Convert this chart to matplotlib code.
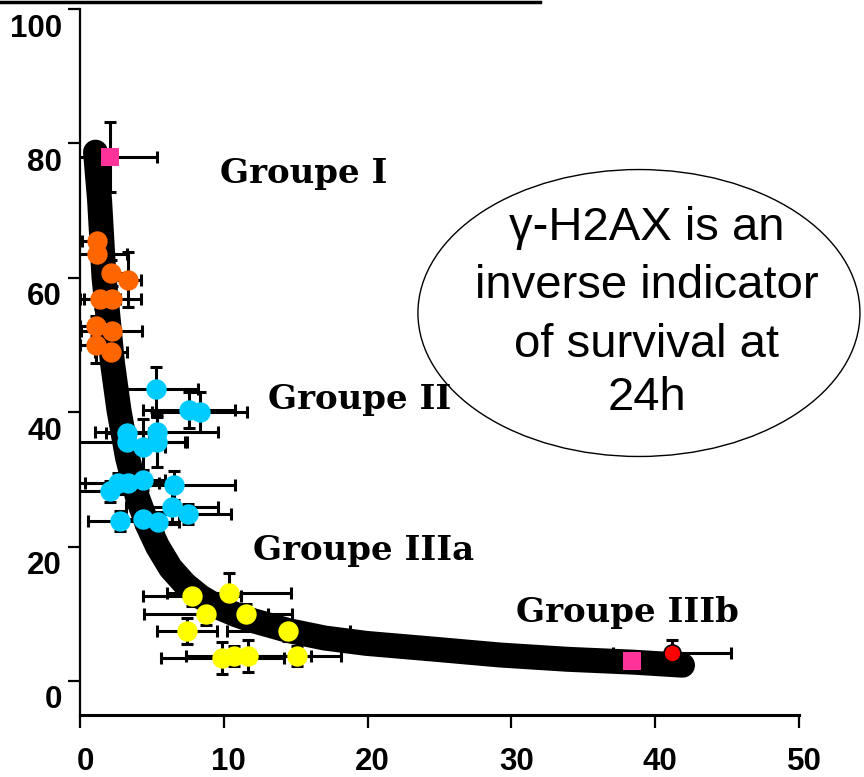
import matplotlib
matplotlib.use('Agg')
import matplotlib.pyplot as plt
import matplotlib.transforms as mtransforms
from matplotlib.patches import Ellipse
from matplotlib.lines import Line2D

plt.rcParams['font.family'] = ['Liberation Sans', 'DejaVu Sans']

# fitted survival curve (thick black band)
curve_x = [1.08, 1.36, 1.67, 1.9, 2.26, 2.71, 3.3, 4.0, 4.7, 5.4, 6.3, 7.3, 8.4,
           9.6, 10.8, 12.0, 14.5, 17.0, 19.9, 24.6, 29.2, 33.9, 38.5, 41.9]
curve_y = [78.7, 71.6, 60.0, 55.2, 47.3, 40.3, 33.3, 27.3, 23.2, 20.0, 16.8, 14.4, 12.5,
           11.0, 9.9, 9.0, 7.5, 6.4, 5.6, 4.74, 3.87, 3.23, 2.8, 2.35]

# Groupe I (orange)
g1_x = [1.16, 1.16, 2.16, 3.36, 1.39, 2.25, 1.09, 2.2, 1.09, 2.16]
g1_y = [65.5, 63.6, 60.7, 59.7, 56.8, 56.8, 52.8, 52.1, 50.0, 49.0]
g1_xerr = [1.0, 2.1, 1.2, 0.9, 1.4, 2.0, 1.1, 2.1, 1.1, 1.1]
g1_yerr = [1.5, 1.5, 2.0, 4.1, 1.5, 2.0, 1.5, 2.5, 2.7, 2.0]

# Groupe II (blue)
g2_x = [5.26, 7.58, 8.34, 3.3, 5.33, 3.3, 4.4, 5.33, 2.09, 2.67, 3.36, 4.4,
        6.56, 6.37, 7.49, 2.78, 4.4, 5.4]
g2_y = [43.4, 40.3, 40.0, 36.9, 37.1, 35.6, 34.8, 35.6, 28.2, 29.4, 29.4, 29.9,
        29.1, 25.9, 24.9, 23.8, 24.1, 23.7]
g2_xerr = [2.95, 3.2, 3.3, 1.5, 4.3, 4.0, 1.5, 2.1, 2.5, 2.8, 3.0, 1.5,
           4.2, 3.2, 3.0, 2.25, 1.2, 1.5]
g2_yerr = [3.3, 2.7, 3.0, 1.5, 2.5, 1.5, 4.2, 3.7, 1.5, 1.5, 1.5, 1.5,
           2.1, 2.5, 1.5, 1.5, 1.5, 1.5]

# Groupe IIIa (yellow)
g3_x = [7.77, 10.36, 8.74, 11.54, 7.42, 14.49, 9.9, 10.73, 11.7, 15.07]
g3_y = [12.7, 13.05, 9.9, 9.9, 7.44, 7.44, 3.47, 3.72, 3.72, 3.77]
g3_xerr = [3.4, 4.3, 4.3, 3.2, 2.1, 4.3, 4.27, 1.0, 4.35, 3.1]
g3_yerr = [1.5, 3.0, 1.5, 1.5, 2.0, 1.5, 2.4, 1.5, 2.4, 1.5]

# reference cell lines (pink squares) and Groupe IIIb (red)
ref_x = [2.1, 38.4]
ref_y = [78.0, 3.0]
ref_xerr = [3.25, 1.3]
ref_yerr = [5.2, 0.5]
g3b_x = [41.2]
g3b_y = [4.2]
g3b_xerr = [4.1]
g3b_yerr = [1.9]

x_ticks = [0, 10, 20, 30, 40, 50]
y_ticks = [0, 20, 40, 60, 80, 100]

fig = plt.figure(figsize=(8.64, 7.77), dpi=100)
ax = fig.add_axes([80 / 864, 62 / 777, 719 / 864, 706 / 777])
ax.set_xlim(0, 50)
ax.set_ylim(-5.06, 100)

for s in ['top', 'right']:
    ax.spines[s].set_visible(False)
ax.spines['left'].set_linewidth(1.6)
ax.spines['bottom'].set_linewidth(2.2)

ax.set_xticks(x_ticks)
ax.set_yticks(y_ticks)
ax.tick_params(axis='both', direction='out', length=9, width=1.6,
               labelsize=22.5, colors='black')
ax.tick_params(axis='x', pad=14)
ax.tick_params(axis='y', pad=4)
for lab in ax.get_xticklabels() + ax.get_yticklabels():
    lab.set_fontweight('bold')
# labels sit a little below / right of their ticks
dy = mtransforms.ScaledTranslation(0, -16 / 100, fig.dpi_scale_trans)
dx = mtransforms.ScaledTranslation(5 / 100, 0, fig.dpi_scale_trans)
for lab in ax.get_yticklabels():
    lab.set_transform(lab.get_transform() + dy)
for lab in ax.get_xticklabels():
    lab.set_transform(lab.get_transform() + dx)

eb = dict(fmt='none', ecolor='black', elinewidth=2.2, capsize=4.5, capthick=2.2, zorder=2)
ax.errorbar(g1_x, g1_y, xerr=g1_xerr, yerr=g1_yerr, **eb)
ax.errorbar(g2_x, g2_y, xerr=g2_xerr, yerr=g2_yerr, **eb)
ax.errorbar(g3_x, g3_y, xerr=g3_xerr, yerr=g3_yerr, **eb)
ax.errorbar(ref_x, ref_y, xerr=ref_xerr, yerr=ref_yerr, **eb)
ax.errorbar(g3b_x, g3b_y, xerr=g3b_xerr, yerr=g3b_yerr, **eb)

ax.plot(curve_x, curve_y, color='black', lw=18, solid_capstyle='round',
        solid_joinstyle='round', zorder=3)

ax.scatter(g1_x, g1_y, s=215, color='#FF6600', linewidths=0, zorder=4)
ax.scatter(g2_x, g2_y, s=215, color='#00CCFF', linewidths=0, zorder=4)
ax.scatter(g3_x, g3_y, s=215, color='#FFFF00', linewidths=0, zorder=4)
ax.scatter(ref_x, ref_y, s=185, marker='s', color='#FF3399', linewidths=0, zorder=5)
ax.scatter(g3b_x, g3b_y, s=150, color='#FF0000', edgecolors='black',
           linewidths=1.2, zorder=5)

# annotation bubble
ell = Ellipse((38.87, 54.76), 30.74, 42.7, facecolor='white', edgecolor='black',
              lw=1.0, clip_on=False, zorder=6)
ax.add_patch(ell)
bubble_lines = ['\u03b3-H2AX is an', 'inverse indicator', 'of survival at', '24h']
for line, yb in zip(bubble_lines, [65.6, 57.0, 48.2, 40.3]):
    ax.text(39.4, yb, line, fontsize=34, ha='center', va='baseline', zorder=7)

grp = dict(fontsize=24.5, fontweight='bold', family='DejaVu Serif',
           va='baseline', ha='left', zorder=8)
ax.text(9.74, 74.1, 'Groupe I', **grp)
ax.text(13.07, 40.5, 'Groupe II', **grp)
ax.text(12.03, 18.0, 'Groupe IIIa', **grp)
ax.text(30.3, 8.8, 'Groupe IIIb', **grp)

# rule across the top edge
fig.add_artist(Line2D([0, 540 / 864], [1 - 2 / 777, 1 - 2 / 777], color='black', lw=2.5))

fig.savefig('out.png', dpi=100)
